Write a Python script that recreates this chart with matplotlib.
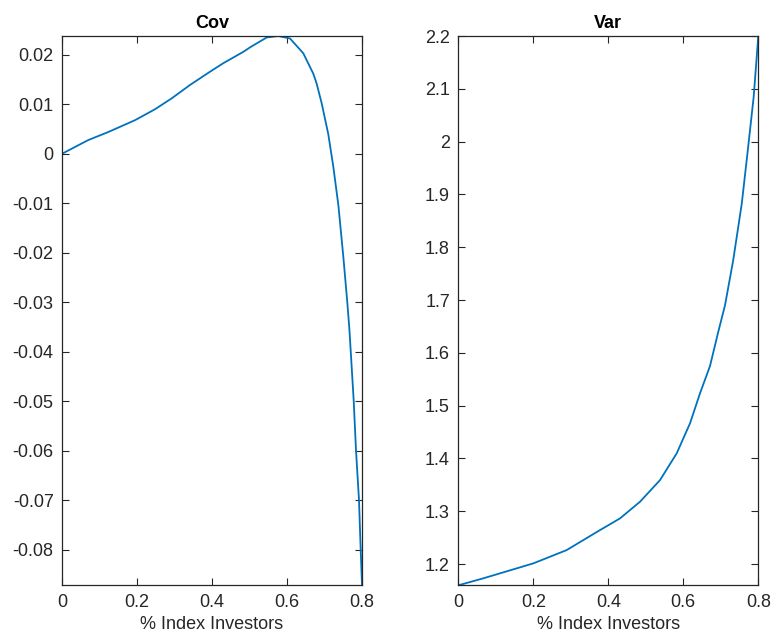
import matplotlib
matplotlib.use("Agg")
import matplotlib.pyplot as plt

# --- data ---
cov_x = [0.0, 0.070, 0.1235, 0.195, 0.248, 0.2925, 0.3413, 0.395, 0.430, 0.4835,
         0.5013, 0.5458, 0.5768, 0.608, 0.6435, 0.670, 0.679, 0.6925, 0.710,
         0.7235, 0.737, 0.7502, 0.761, 0.7665, 0.7778, 0.784, 0.792, 0.7965, 0.8]
cov_y = [0.0, 0.00277, 0.0044, 0.0068, 0.0090, 0.0112, 0.0139, 0.0166, 0.0183, 0.0206,
         0.0215, 0.0235, 0.0238, 0.0233, 0.0203, 0.0162, 0.0142, 0.0102, 0.0040,
         -0.0026, -0.0104, -0.0208, -0.0302, -0.0356, -0.0498, -0.0599, -0.0700,
         -0.0800, -0.0872]

var_x = [0.0, 0.0667, 0.2, 0.289, 0.378, 0.4312, 0.4845, 0.5379, 0.5824, 0.6179,
         0.6445, 0.6712, 0.6933, 0.7112, 0.733, 0.756, 0.773, 0.7877, 0.8]
var_y = [1.1598, 1.173, 1.2013, 1.2265, 1.2644, 1.2865, 1.318, 1.359, 1.4097, 1.4665,
         1.5233, 1.575, 1.640, 1.690, 1.775, 1.883, 1.990, 2.085, 2.2]

x_ticks = [0, 0.2, 0.4, 0.6, 0.8]
x_tick_labels = ["0", "0.2", "0.4", "0.6", "0.8"]
cov_ticks = [-0.08, -0.07, -0.06, -0.05, -0.04, -0.03, -0.02, -0.01, 0, 0.01, 0.02]
cov_tick_labels = ["-0.08", "-0.07", "-0.06", "-0.05", "-0.04", "-0.03", "-0.02",
                   "-0.01", "0", "0.01", "0.02"]
var_ticks = [1.2, 1.3, 1.4, 1.5, 1.6, 1.7, 1.8, 1.9, 2.0, 2.1, 2.2]
var_tick_labels = ["1.2", "1.3", "1.4", "1.5", "1.6", "1.7", "1.8", "1.9", "2", "2.1", "2.2"]

plt.rcParams['font.family'] = ['Liberation Sans', 'DejaVu Sans']
plt.rcParams['axes.unicode_minus'] = False

W, H = 774, 643
fig = plt.figure(figsize=(W / 100, H / 100), dpi=100)
fig.patch.set_facecolor('white')

dark = (0.15, 0.15, 0.15)
line_color = (0, 0.447, 0.741)
top_px, bot_px = 36, 585.3


def make_axes(left_px, x, y, ylim, yticks, ylabels, title):
    ax = fig.add_axes([left_px / W, 1 - bot_px / H, 300 / W, (bot_px - top_px) / H])
    ax.plot(x, y, color=line_color, lw=1.3, solid_joinstyle='round')
    ax.set_xlim(0, 0.8)
    ax.set_ylim(*ylim)
    ax.set_xticks(x_ticks)
    ax.set_xticklabels(x_tick_labels)
    ax.set_yticks(yticks)
    ax.set_yticklabels(ylabels)
    ax.tick_params(direction='in', top=True, right=True, length=5, width=0.8,
                   color=dark, labelcolor=dark, labelsize=13, pad=6)
    for s in ax.spines.values():
        s.set_color(dark)
        s.set_linewidth(0.9)
    ax.set_title(title, fontsize=13, fontweight='bold', color='black', pad=6)
    ax.set_xlabel('% Index Investors', fontsize=13, color=dark, labelpad=4)
    return ax


make_axes(62, cov_x, cov_y, (-0.0872, 0.0238), cov_ticks, cov_tick_labels, 'Cov')
make_axes(458.3, var_x, var_y, (1.1598, 2.2), var_ticks, var_tick_labels, 'Var')

fig.savefig('out.png', dpi=100, facecolor='white')
